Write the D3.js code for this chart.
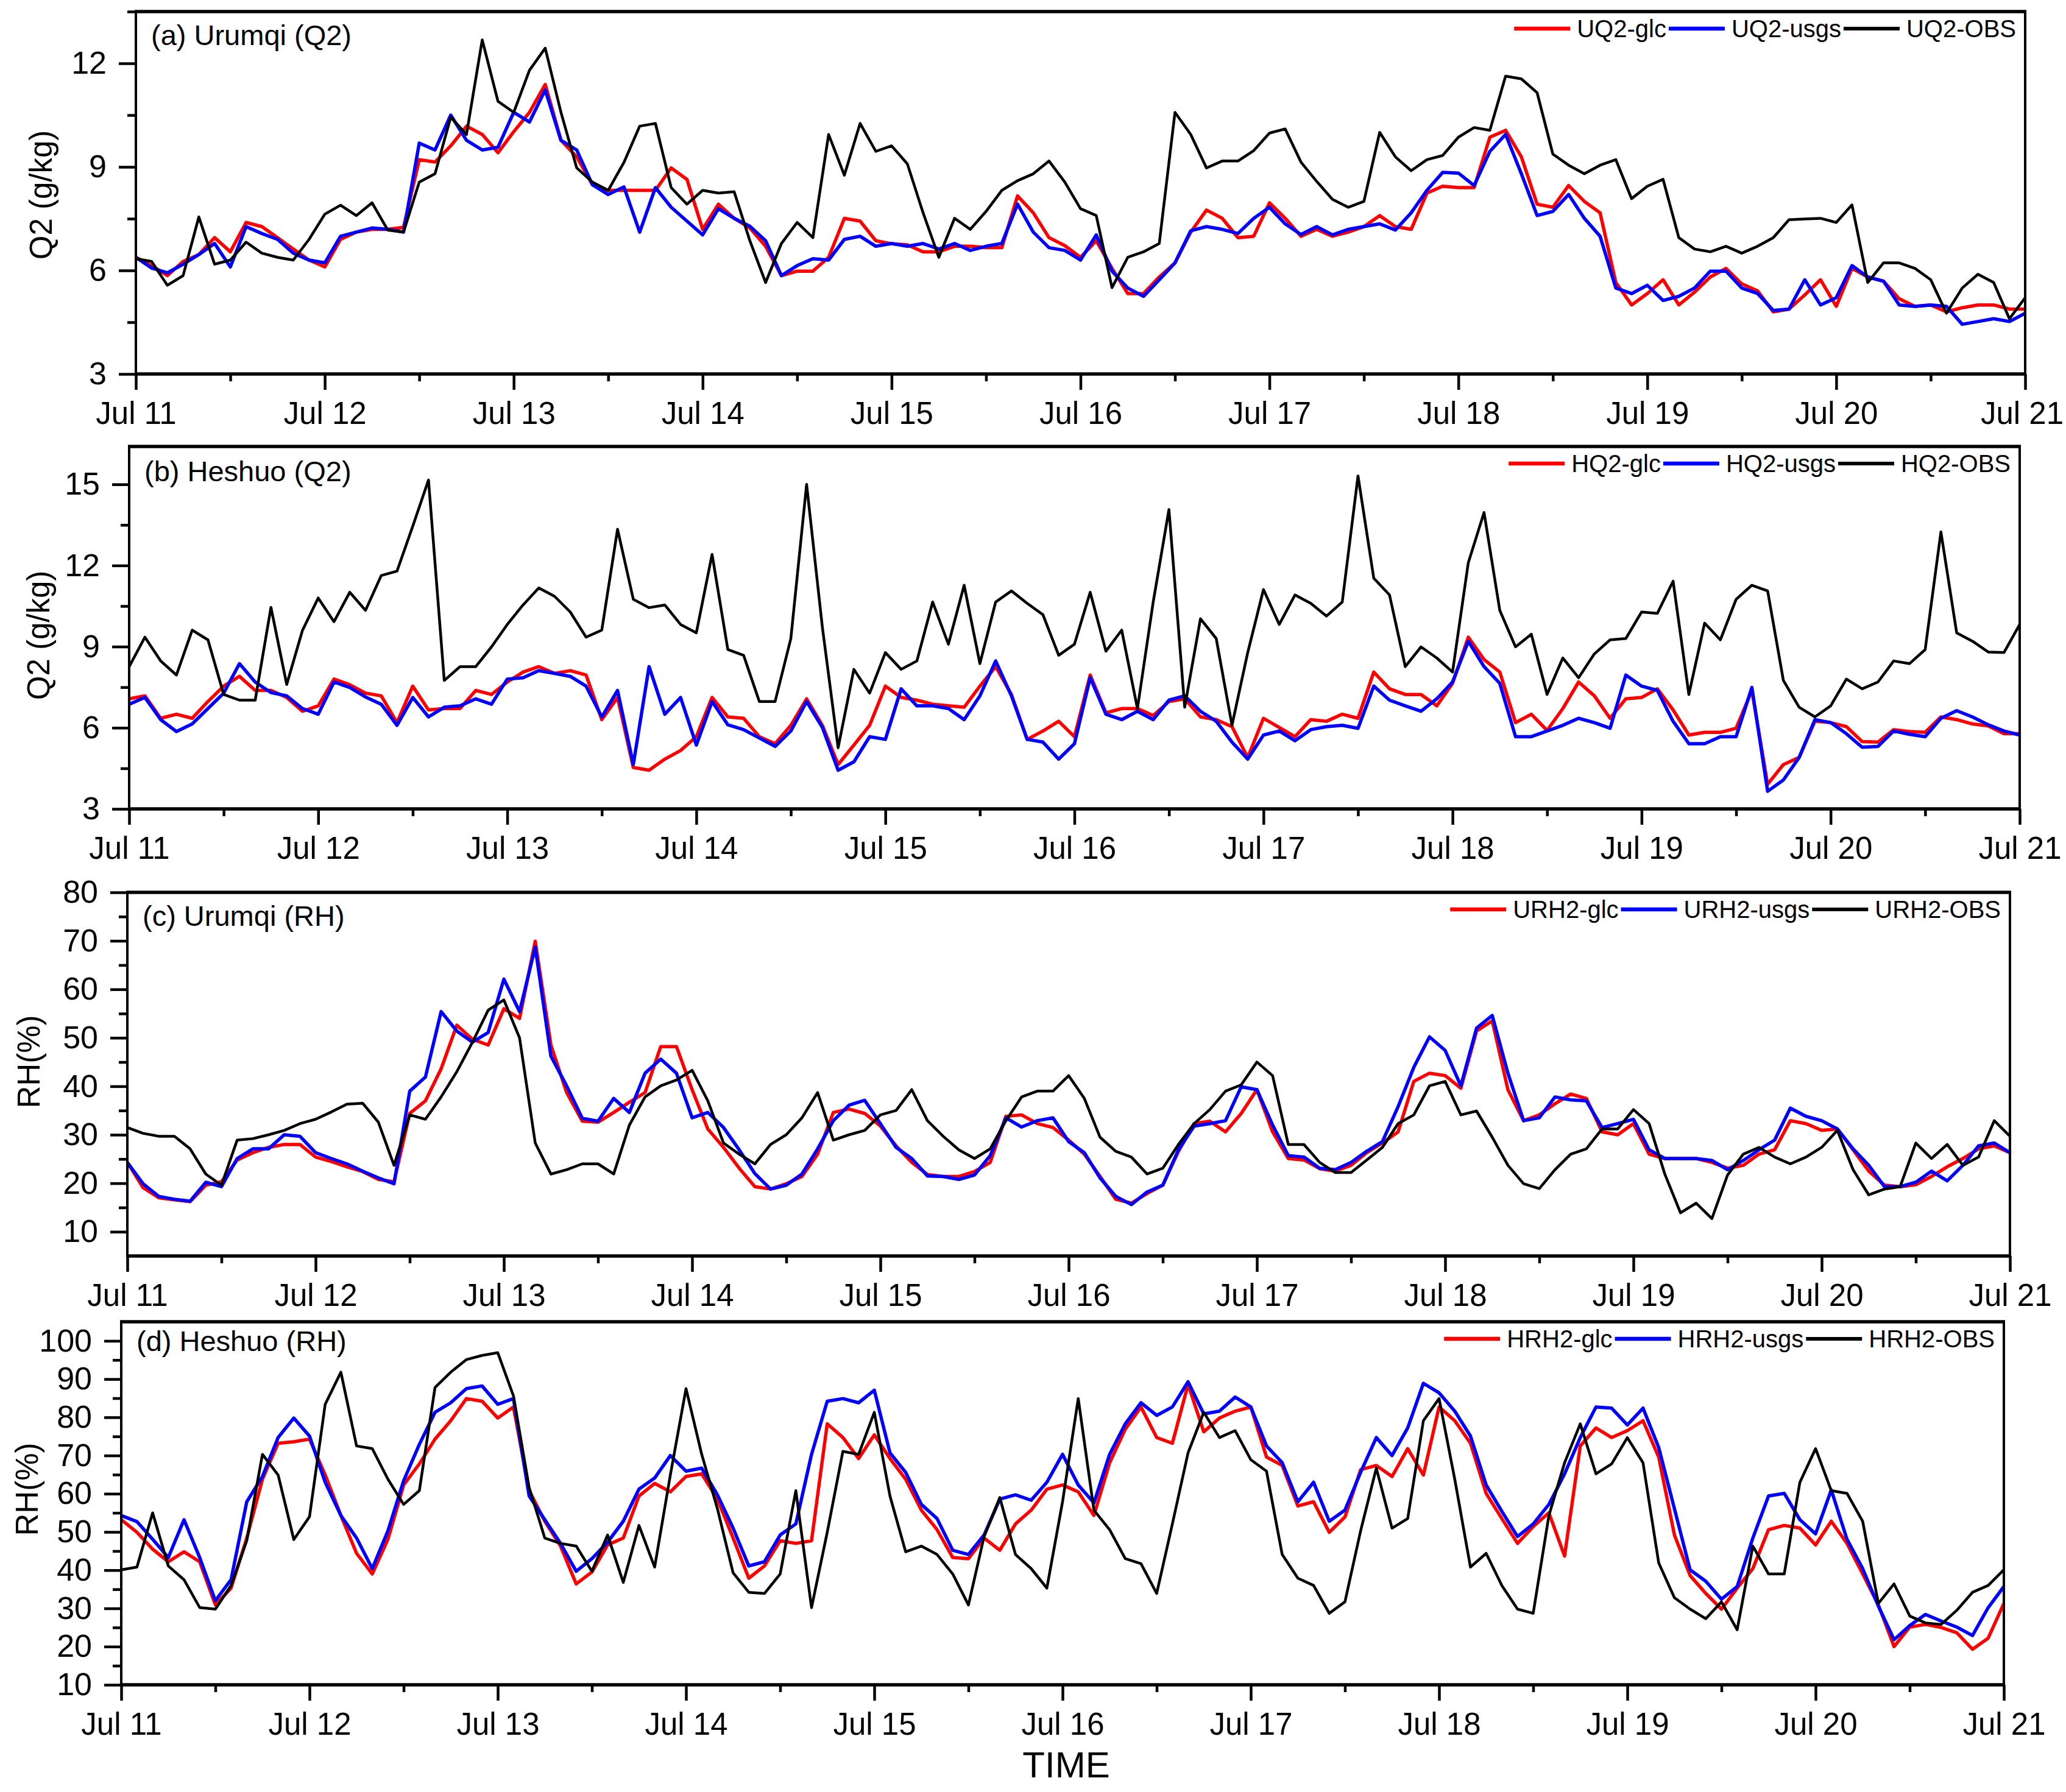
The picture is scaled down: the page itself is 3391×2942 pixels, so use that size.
<!DOCTYPE html>
<html>
<head>
<meta charset="utf-8">
<script src="https://cdn.jsdelivr.net/npm/d3@7"></script>
<style>
  body { margin: 0; background: #fff; }
  svg { display: block; }
  text { font-family: "Liberation Sans", Arial, sans-serif; fill: #000; }
</style>
</head>
<body>
<svg id="chart"></svg>
<script>
// values every 2 hours from Jul 11 00:00 to Jul 21 00:00 (121 points)
var stepHours = 2;
var dayLabels = ['Jul 11','Jul 12','Jul 13','Jul 14','Jul 15','Jul 16','Jul 17','Jul 18','Jul 19','Jul 20','Jul 21'];

// (a) Urumqi Q2
var uq2Glc = [6.38,6.14,5.85,6.26,6.46,6.95,6.54,7.39,7.27,6.95,
  6.62,6.30,6.10,6.90,7.11,7.19,7.19,7.25,9.21,9.14,
  9.61,10.18,9.94,9.41,10.02,10.58,11.39,9.77,9.29,8.48,
  8.32,8.32,8.32,8.32,8.97,8.64,7.19,7.92,7.51,7.23,
  6.70,5.85,5.98,5.98,6.38,7.51,7.43,6.86,6.77,6.74,
  6.54,6.54,6.70,6.70,6.66,6.66,8.16,7.67,6.95,6.72,
  6.38,6.86,6.06,5.33,5.33,5.81,6.22,7.11,7.75,7.51,
  6.95,6.99,7.96,7.51,6.99,7.19,6.99,7.11,7.27,7.59,
  7.27,7.19,8.24,8.44,8.40,8.40,9.86,10.06,9.29,7.92,
  7.83,8.46,8.00,7.67,5.65,5.00,5.33,5.73,5.00,5.37,
  5.81,6.06,5.61,5.41,4.80,4.88,5.29,5.73,4.96,6.06,
  5.81,5.69,5.18,4.96,5.00,4.80,4.92,5.00,5.00,4.88,
  4.88];
var uq2Usgs = [6.38,6.07,5.93,6.18,6.46,6.78,6.10,7.27,7.07,6.90,
  6.50,6.30,6.22,6.99,7.11,7.23,7.19,7.11,9.69,9.49,
  10.50,9.77,9.49,9.57,10.58,10.30,11.23,9.77,9.49,8.48,
  8.20,8.42,7.11,8.40,7.83,7.43,7.03,7.79,7.51,7.28,
  6.86,5.85,6.14,6.34,6.30,6.90,6.99,6.70,6.78,6.70,
  6.78,6.62,6.78,6.58,6.70,6.78,7.92,7.11,6.66,6.58,
  6.30,7.03,5.98,5.49,5.25,5.73,6.22,7.15,7.27,7.19,
  7.07,7.51,7.83,7.35,7.04,7.27,7.03,7.19,7.27,7.35,
  7.17,7.67,8.32,8.84,8.82,8.46,9.45,9.94,8.80,7.59,
  7.71,8.20,7.51,6.99,5.49,5.33,5.57,5.13,5.25,5.49,
  5.98,5.98,5.49,5.33,4.84,4.88,5.73,5.00,5.21,6.14,
  5.81,5.69,5.00,4.96,5.00,4.96,4.44,4.52,4.60,4.52,
  4.76];
var uq2Obs = [6.34,6.26,5.57,5.85,7.55,6.18,6.30,6.82,6.50,6.38,
  6.30,6.90,7.63,7.89,7.59,7.96,7.17,7.11,8.56,8.80,
  10.44,9.94,12.68,10.90,10.58,11.80,12.44,10.58,8.97,8.56,
  8.32,9.13,10.18,10.26,8.40,7.92,8.32,8.24,8.28,6.86,
  5.65,6.78,7.39,6.95,9.94,8.76,10.26,9.45,9.61,9.09,
  7.67,6.38,7.51,7.19,7.71,8.32,8.60,8.80,9.17,8.56,
  7.79,7.59,5.50,6.38,6.54,6.78,10.58,9.94,8.97,9.17,
  9.17,9.47,9.98,10.10,9.14,8.58,8.06,7.83,8.00,10.00,
  9.29,8.89,9.21,9.33,9.86,10.14,10.06,11.63,11.55,11.15,
  9.37,9.05,8.80,9.05,9.21,8.08,8.44,8.64,6.95,6.62,
  6.54,6.70,6.50,6.70,6.95,7.47,7.49,7.51,7.39,7.90,
  5.65,6.22,6.22,6.06,5.73,4.76,5.49,5.89,5.65,4.60,
  5.21];

// (b) Heshuo Q2
var hq2Glc = [7.07,7.18,6.35,6.50,6.35,6.97,7.54,7.90,7.38,7.38,
  7.12,6.61,6.81,7.80,7.59,7.28,7.18,6.19,7.54,6.66,
  6.71,6.71,7.38,7.23,7.69,8.06,8.26,8.01,8.11,7.95,
  6.30,7.12,4.53,4.43,4.84,5.16,5.67,7.12,6.40,6.35,
  5.67,5.41,6.09,7.07,6.09,4.64,5.36,6.09,7.54,7.12,
  7.02,6.87,6.81,6.76,7.54,8.26,7.23,5.57,5.88,6.24,
  5.67,7.95,6.55,6.71,6.71,6.45,6.97,7.07,6.40,6.30,
  6.04,4.90,6.35,6.01,5.67,6.30,6.24,6.50,6.35,8.06,
  7.44,7.23,7.23,6.81,7.64,9.35,8.52,8.06,6.19,6.50,
  5.90,6.71,7.69,7.18,6.35,7.07,7.12,7.44,6.66,5.73,
  5.83,5.83,5.98,7.38,3.91,4.64,4.90,6.24,6.19,6.04,
  5.49,5.47,5.93,5.86,5.83,6.40,6.30,6.14,6.07,5.78,
  5.78];
var hq2Usgs = [6.87,7.12,6.30,5.86,6.14,6.71,7.28,8.37,7.69,7.30,
  7.18,6.71,6.50,7.69,7.49,7.14,6.87,6.09,7.12,6.40,
  6.76,6.81,7.07,6.87,7.80,7.85,8.11,8.01,7.90,7.54,
  6.40,7.38,4.64,8.26,6.50,7.12,5.36,6.97,6.11,5.93,
  5.62,5.31,5.88,6.97,6.01,4.43,4.74,5.67,5.57,7.44,
  6.81,6.81,6.71,6.30,7.18,8.47,7.18,5.57,5.47,4.84,
  5.41,7.85,6.50,6.30,6.61,6.30,7.02,7.18,6.61,6.24,
  5.47,4.84,5.73,5.88,5.52,5.93,6.04,6.09,5.98,7.54,
  7.02,6.81,6.61,7.07,7.69,9.20,8.26,7.64,5.67,5.67,
  5.88,6.09,6.35,6.19,5.98,7.95,7.54,7.38,6.24,5.41,
  5.41,5.67,5.67,7.49,3.65,4.07,4.90,6.30,6.19,5.78,
  5.28,5.31,5.88,5.76,5.67,6.35,6.63,6.40,6.11,5.88,
  5.73];
var hq2Obs = [8.26,9.35,8.47,7.95,9.61,9.25,7.23,7.02,7.02,10.45,
  7.60,9.60,10.80,9.92,11.01,10.34,11.63,11.79,13.45,15.16,
  7.75,8.26,8.26,8.99,9.82,10.54,11.17,10.86,10.28,9.35,
  9.61,13.34,10.75,10.44,10.54,9.82,9.51,12.41,8.89,8.68,
  6.97,6.97,9.30,15.00,9.72,5.26,8.16,7.28,8.78,8.16,
  8.47,10.65,9.09,11.27,8.37,10.65,11.06,10.60,10.18,8.68,
  9.09,11.01,8.83,9.61,6.71,10.65,14.07,6.76,10.03,9.30,
  6.09,8.78,11.11,9.82,10.91,10.60,10.13,10.65,15.31,11.53,
  10.91,8.26,8.99,8.58,8.06,12.10,13.96,10.34,8.99,9.46,
  7.23,8.58,7.85,8.73,9.25,9.30,10.28,10.23,11.42,7.23,
  9.87,9.25,10.75,11.27,11.06,7.75,6.76,6.40,6.81,7.80,
  7.44,7.69,8.47,8.37,8.89,13.24,9.51,9.20,8.80,8.78,
  9.82];

// (c) Urumqi RH
var urh2Glc = [24.3,19.1,17.0,16.6,16.2,19.6,20.3,24.8,26.3,27.4,
  28.0,28.0,25.4,24.5,23.4,22.4,20.8,20.3,34.4,37.0,
  43.6,52.6,49.7,48.5,56.0,54.0,69.9,48.5,38.7,32.8,
  32.6,34.6,36.7,38.7,48.2,48.2,39.3,31.2,27.4,23.1,
  19.3,18.8,19.9,21.4,26.0,34.6,35.3,34.4,31.8,27.7,
  24.3,21.8,21.4,21.4,22.4,24.3,33.8,34.1,32.3,31.5,
  28.9,26.0,21.4,16.7,15.9,17.9,19.6,26.6,32.3,32.8,
  30.6,34.4,39.3,30.6,25.1,24.8,23.0,22.5,23.7,26.3,
  28.3,30.6,41.0,42.7,42.2,39.6,51.4,53.5,39.3,32.9,
  34.1,36.4,38.4,37.5,30.6,30.0,32.3,26.0,25.1,25.1,
  25.1,24.3,23.1,23.7,26.0,26.9,32.9,32.3,30.9,31.2,
  26.9,22.5,19.6,19.3,19.7,21.4,23.4,25.1,27.1,27.7,
  26.3];
var urh2Usgs = [24.3,19.9,17.3,16.7,16.3,20.2,19.3,25.1,27.1,27.1,
  30.0,29.7,26.3,25.1,24.0,22.5,21.1,19.9,39.0,41.9,
  55.4,51.4,49.1,51.1,62.1,55.4,68.7,46.2,40.1,33.4,
  32.8,37.5,34.6,42.7,45.6,42.7,33.5,34.6,31.5,26.9,
  22.0,18.8,19.6,21.9,27.1,32.9,36.1,37.1,32.3,27.4,
  25.1,21.5,21.4,20.8,21.7,25.7,33.5,31.6,32.9,33.5,
  28.6,26.3,21.1,17.3,15.6,18.2,19.6,26.9,31.8,32.3,
  32.9,39.9,39.3,32.0,25.7,25.4,23.1,22.8,24.3,26.6,
  28.6,35.8,43.9,50.2,47.4,40.1,52.0,54.6,42.7,32.9,
  33.5,37.8,37.2,37.0,31.5,32.3,33.2,26.9,25.1,25.1,
  25.1,24.7,22.8,24.7,26.9,28.9,35.5,33.8,32.9,31.2,
  27.1,23.7,19.3,19.3,20.2,22.5,20.5,23.7,27.7,28.3,
  26.3];
var urh2Obs = [31.5,30.3,29.7,29.7,27.1,21.9,19.6,28.9,29.2,30.0,
  30.9,32.3,33.2,34.7,36.3,36.5,32.6,23.7,34.1,33.2,
  37.8,43.0,49.1,55.7,57.8,50.0,28.3,21.9,22.8,24.0,
  24.0,21.9,32.0,37.8,40.1,41.3,43.3,37.0,28.3,26.0,
  24.0,28.0,30.0,33.5,38.7,28.9,30.0,30.9,34.1,35.0,
  39.3,32.9,29.7,26.9,25.1,27.1,32.9,37.8,39.0,39.0,
  42.2,37.5,29.5,26.6,25.4,21.9,23.1,28.0,32.3,35.2,
  39.0,40.3,45.0,42.2,28.0,28.0,24.3,22.2,22.2,24.8,
  27.4,32.3,34.1,40.1,41.0,34.1,34.9,29.5,23.7,19.9,
  18.9,22.8,26.0,27.1,31.2,31.2,35.2,32.3,21.9,13.9,
  15.9,12.7,21.7,26.0,27.4,25.4,24.0,25.4,27.4,30.9,
  22.8,17.6,18.8,19.3,28.3,25.1,28.0,23.7,25.4,32.9,
  29.7];

// (d) Heshuo RH
var hrh2Glc = [53.2,49.9,45.5,42.2,44.8,42.2,30.9,35.3,48.4,63.8,
  73.2,73.6,74.3,64.9,54.3,44.4,39.0,48.1,62.3,67.8,
  74.3,79.1,84.9,84.2,79.8,82.7,60.8,52.8,46.3,36.4,
  39.5,46.6,48.4,59.4,62.7,60.5,64.5,65.2,58.6,48.4,
  37.9,41.1,47.7,47.0,47.7,78.3,74.7,69.2,75.4,69.2,
  63.8,55.7,50.6,43.3,43.0,48.4,45.2,52.1,55.7,61.2,
  62.3,60.5,54.3,68.1,76.9,82.7,74.7,73.2,88.6,76.2,
  79.8,81.6,82.7,69.6,67.4,56.8,57.9,49.9,53.9,66.3,
  67.4,64.5,71.8,64.9,82.7,79.1,73.2,60.1,53.5,47.0,
  51.4,55.0,43.7,72.5,77.2,74.7,76.5,79.1,69.6,49.2,
  38.6,33.9,29.8,35.3,40.4,50.6,51.7,51.0,46.6,52.8,
  47.0,39.0,30.9,20.0,25.1,25.8,25.0,23.6,19.3,22.2,
  31.3];
var hrh2Usgs = [54.3,52.7,48.1,43.3,53.2,43.3,32.0,37.5,57.9,64.5,
  74.7,79.8,75.1,63.0,54.3,48.4,40.4,50.3,63.4,72.9,
  81.3,83.8,87.5,88.2,83.4,84.9,59.4,53.2,47.0,39.7,
  43.0,47.3,52.8,61.2,64.1,70.0,65.9,66.7,59.7,51.0,
  41.1,42.2,49.2,52.1,70.3,84.2,84.9,83.8,87.1,70.7,
  65.6,57.2,53.5,45.2,44.1,49.2,58.6,59.7,58.3,63.0,
  70.3,62.3,57.6,70.3,78.3,83.8,80.5,82.7,89.3,80.9,
  81.6,85.3,82.7,72.5,68.1,57.9,63.0,52.8,55.7,65.6,
  74.7,70.0,77.2,88.9,86.4,81.6,75.1,62.3,55.4,48.8,
  52.1,57.2,65.2,74.7,82.7,82.4,78.0,82.4,72.1,56.1,
  40.1,37.1,32.4,35.7,48.4,59.4,60.1,53.2,49.5,61.0,
  48.1,40.4,30.6,21.8,25.5,28.4,26.7,25.1,22.9,30.2,
  35.7];
var hrh2Obs = [40.1,40.8,55.0,41.1,37.5,30.2,29.8,36.0,47.7,70.3,
  64.9,48.0,54.0,83.4,91.8,72.5,71.8,63.8,57.2,60.8,
  87.8,91.8,95.1,96.2,96.9,85.6,61.6,48.4,47.0,46.3,
  39.7,49.2,36.8,51.7,40.8,64.9,87.5,70.3,56.1,39.3,
  34.2,33.9,39.0,60.8,30.2,49.9,71.1,70.3,81.3,59.4,
  44.8,46.3,44.1,39.0,30.9,48.8,59.0,44.1,40.4,35.3,
  57.9,84.9,55.7,50.6,43.0,41.7,33.9,52.1,70.7,81.3,
  74.7,76.5,68.9,65.9,44.1,37.9,36.0,28.7,31.7,50.3,
  66.7,51.0,53.5,79.1,84.9,63.8,40.8,44.4,36.0,29.8,
  28.7,54.3,68.1,78.3,65.2,67.8,74.7,68.1,41.9,32.8,
  29.8,27.3,31.7,24.4,46.3,39.0,39.0,63.0,71.8,60.8,
  60.1,52.8,31.3,36.4,28.0,26.2,25.8,29.5,34.2,36.0,
  40.1];

var panels = [
  {label: '(a) Urumqi (Q2)', yTitle: 'Q2 (g/kg)', names: ['UQ2-glc', 'UQ2-usgs', 'UQ2-OBS'],
   series: [uq2Glc, uq2Usgs, uq2Obs], domain: [3, 13.5], major: [3, 6, 9, 12], minor: [4.5, 7.5, 10.5, 13.5]},
  {label: '(b) Heshuo (Q2)', yTitle: 'Q2 (g/kg)', names: ['HQ2-glc', 'HQ2-usgs', 'HQ2-OBS'],
   series: [hq2Glc, hq2Usgs, hq2Obs], domain: [3, 16.4], major: [3, 6, 9, 12, 15], minor: [4.5, 7.5, 10.5, 13.5]},
  {label: '(c) Urumqi (RH)', yTitle: 'RH(%)', names: ['URH2-glc', 'URH2-usgs', 'URH2-OBS'],
   series: [urh2Glc, urh2Usgs, urh2Obs], domain: [5, 80], major: [10, 20, 30, 40, 50, 60, 70, 80], minor: [15, 25, 35, 45, 55, 65, 75]},
  {label: '(d) Heshuo (RH)', yTitle: 'RH(%)', names: ['HRH2-glc', 'HRH2-usgs', 'HRH2-OBS'],
   series: [hrh2Glc, hrh2Usgs, hrh2Obs], domain: [10, 105], major: [10, 20, 30, 40, 50, 60, 70, 80, 90, 100], minor: [15, 25, 35, 45, 55, 65, 75, 85, 95]}
];

// frame boxes and title spots, in pixels
var layout = [
  {l: 223, r: 3324, t: 19,   b: 614,  titleX: 85, titleY: 320,  labelDy: 55},
  {l: 212, r: 3315, t: 733,  b: 1328, titleX: 81, titleY: 1043, labelDy: 57},
  {l: 209, r: 3299, t: 1465, b: 2062, titleX: 65, titleY: 1743, labelDy: 55},
  {l: 199, r: 3289, t: 2170, b: 2766, titleX: 62, titleY: 2445, labelDy: 48}
];

var colors = ['#ff0000', '#0000ff', '#000000'];
var lineWidths = [5.5, 5.5, 4.5];

var W = 3391, H = 2942;
var svg = d3.select('#chart').attr('width', W).attr('height', H);
svg.append('rect').attr('width', W).attr('height', H).attr('fill', '#fff');

var dayHours = d3.range(dayLabels.length).map(function(d){ return d * 24; });
var halfDayHours = dayHours.slice(0, -1).map(function(h){ return h + 12; });

panels.forEach(function(p, pi){
  var L = layout[pi];
  var g = svg.append('g');

  var x = d3.scaleLinear().domain([0, 240]).range([L.l, L.r]);
  var y = d3.scaleLinear().domain(p.domain).range([L.b, L.t]);

  // lines: glc, usgs, obs
  p.series.forEach(function(vals, si){
    var line = d3.line()
      .x(function(d, i){ return x(i * stepHours); })
      .y(function(d){ return y(d); });
    g.append('path').datum(vals)
      .attr('d', line)
      .attr('fill', 'none')
      .attr('stroke', colors[si])
      .attr('stroke-width', lineWidths[si])
      .attr('stroke-linejoin', 'round');
  });

  // x axis, major and minor
  var xa = g.append('g').attr('transform', 'translate(0,' + L.b + ')')
    .call(d3.axisBottom(x).tickValues(dayHours).tickSize(26).tickPadding(20)
      .tickFormat(function(d, i){ return dayLabels[i]; }));
  xa.select('.domain').remove();
  xa.selectAll('line').attr('stroke-width', 4.5);
  xa.selectAll('text').attr('font-size', 51).attr('font-family', '"Liberation Sans", Arial, sans-serif')
    .each(function(){
      // keep the last label inside the page
      var bb = this.getBBox();
      var tx = d3.select(this.parentNode).attr('transform');
      var px = +tx.replace(/translate\(([-\d.]+).*/, '$1');
      var over = px + bb.x + bb.width - (W - 4);
      if (over > 0) d3.select(this).attr('dx', -over);
    });

  var xm = g.append('g').attr('transform', 'translate(0,' + L.b + ')')
    .call(d3.axisBottom(x).tickValues(halfDayHours).tickSize(12).tickFormat(''));
  xm.select('.domain').remove();
  xm.selectAll('line').attr('stroke-width', 4.5);

  // y axis, major and minor
  var ya = g.append('g').attr('transform', 'translate(' + L.l + ',0)')
    .call(d3.axisLeft(y).tickValues(p.major).tickSize(28).tickPadding(20));
  ya.select('.domain').remove();
  ya.selectAll('line').attr('stroke-width', 4.5);
  ya.selectAll('text').attr('font-size', 52).attr('font-family', '"Liberation Sans", Arial, sans-serif');

  var ym = g.append('g').attr('transform', 'translate(' + L.l + ',0)')
    .call(d3.axisLeft(y).tickValues(p.minor).tickSize(14).tickFormat(''));
  ym.select('.domain').remove();
  ym.selectAll('line').attr('stroke-width', 4.5);

  // frame
  g.append('line').attr('x1', L.l - 2).attr('x2', L.r + 2).attr('y1', L.t).attr('y2', L.t)
    .attr('stroke', '#000').attr('stroke-width', 5.5);
  g.append('line').attr('x1', L.l - 2).attr('x2', L.r + 2).attr('y1', L.b).attr('y2', L.b)
    .attr('stroke', '#000').attr('stroke-width', 5.5);
  g.append('line').attr('x1', L.l).attr('x2', L.l).attr('y1', L.t).attr('y2', L.b)
    .attr('stroke', '#000').attr('stroke-width', 4);
  g.append('line').attr('x1', L.r).attr('x2', L.r).attr('y1', L.t).attr('y2', L.b)
    .attr('stroke', '#000').attr('stroke-width', 4);

  // panel label
  g.append('text').attr('x', L.l + 25).attr('y', L.t + L.labelDy)
    .attr('font-size', 47).text(p.label);

  // y title
  g.append('text')
    .attr('transform', 'translate(' + L.titleX + ',' + L.titleY + ') rotate(-90)')
    .attr('text-anchor', 'middle').attr('font-size', 51).text(p.yTitle);

  // legend, one row at the top right
  var leg = g.append('g');
  var cx = 0;
  p.names.forEach(function(name, si){
    leg.append('line').attr('x1', cx).attr('x2', cx + 92).attr('y1', 0).attr('y2', 0)
      .attr('stroke', colors[si]).attr('stroke-width', si === 2 ? 6 : 6.5);
    var t = leg.append('text').attr('x', cx + 103).attr('y', 0).attr('dy', '0.35em')
      .attr('font-size', 40).text(name);
    cx = cx + 103 + t.node().getComputedTextLength() + 4;
  });
  leg.attr('transform', 'translate(' + (L.r - 15 - (cx - 4)) + ',' + (L.t + 28) + ')');
});

svg.append('text').attr('x', 1750).attr('y', 2918).attr('text-anchor', 'middle')
  .attr('font-size', 60).text('TIME');
</script>
</body>
</html>
